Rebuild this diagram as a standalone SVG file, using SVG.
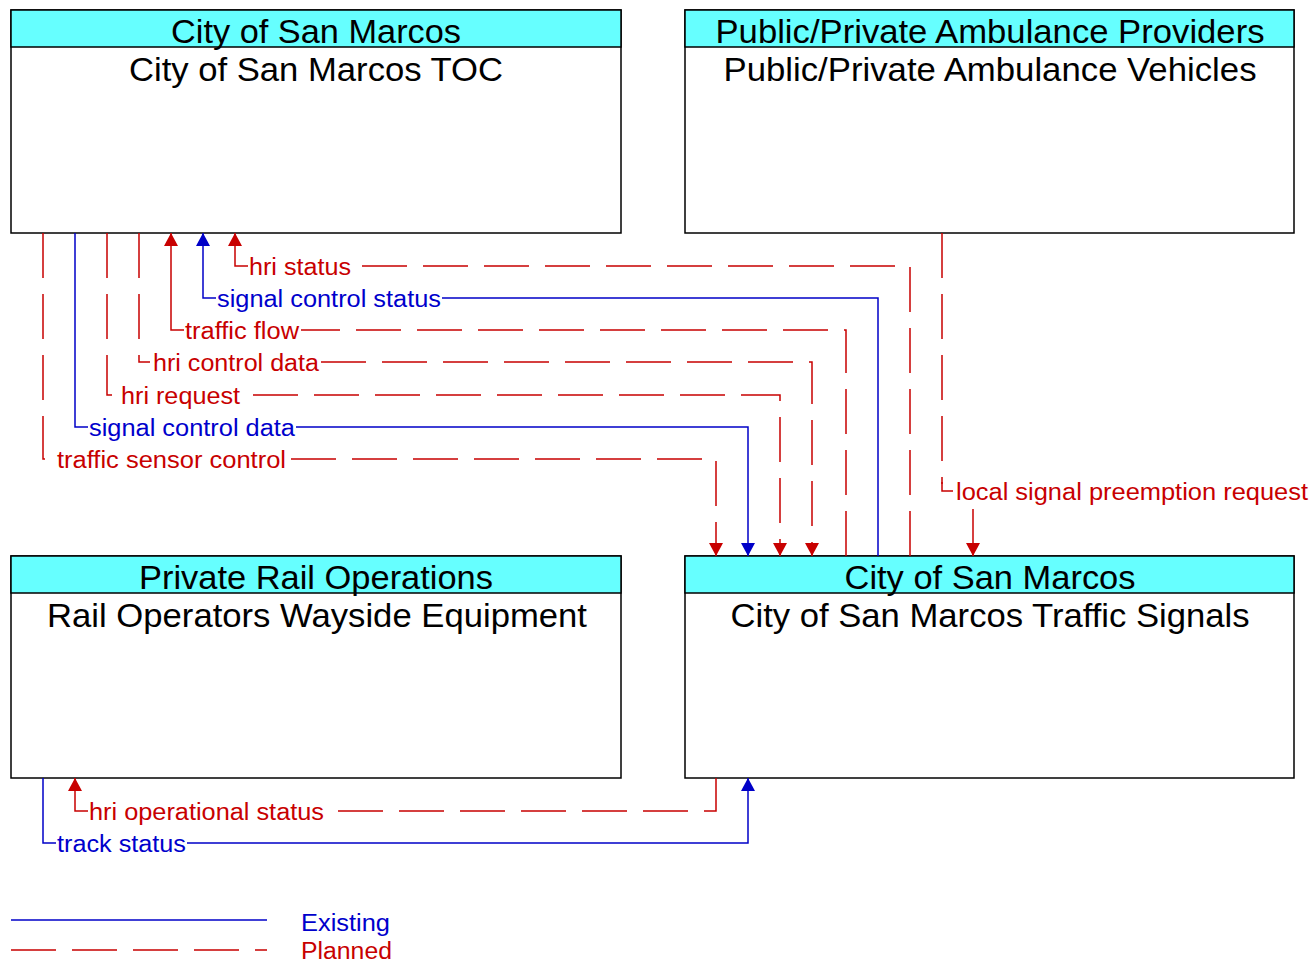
<svg xmlns="http://www.w3.org/2000/svg" width="1314" height="964" viewBox="0 0 1314 964">
<style>
.box{fill:#ffffff;stroke:#000;stroke-width:1.5}
.hdr{fill:#66ffff;stroke:#000;stroke-width:1.5}
.t{font-family:"Liberation Sans",Arial,sans-serif;font-size:33px;fill:#000;text-anchor:middle}
.lbl{font-family:"Liberation Sans",Arial,sans-serif;font-size:23px}
.r{fill:#c80000}
.b{fill:#0000cc}
.ex{fill:none;stroke:#0000c8;stroke-width:1.5}
.pl{fill:none;stroke:#c80000;stroke-width:1.5;stroke-dasharray:45 16}
.pls{fill:none;stroke:#c80000;stroke-width:1.5}
</style>
<defs>
<marker id="ar" viewBox="0 0 13 14" refX="13" refY="7" markerWidth="13" markerHeight="14" markerUnits="userSpaceOnUse" orient="auto"><path d="M0,0 L13,7 L0,14 z" fill="#c80000"/></marker>
<marker id="ab" viewBox="0 0 13 14" refX="13" refY="7" markerWidth="13" markerHeight="14" markerUnits="userSpaceOnUse" orient="auto"><path d="M0,0 L13,7 L0,14 z" fill="#0000c8"/></marker>
</defs>
<rect width="1314" height="964" fill="#fff"/>
<g id="toc">
<rect class="box" x="11" y="10" width="610" height="223"/>
<rect class="hdr" x="11" y="10" width="610" height="37"/>
<text class="t" x="316" y="43" textLength="290" lengthAdjust="spacingAndGlyphs">City of San Marcos</text>
<text class="t" x="316" y="81" textLength="374" lengthAdjust="spacingAndGlyphs">City of San Marcos TOC</text>
</g>
<g id="ambulance">
<rect class="box" x="685" y="10" width="609" height="223"/>
<rect class="hdr" x="685" y="10" width="609" height="37"/>
<text class="t" x="990" y="43" textLength="549" lengthAdjust="spacingAndGlyphs">Public/Private Ambulance Providers</text>
<text class="t" x="990" y="81" textLength="533" lengthAdjust="spacingAndGlyphs">Public/Private Ambulance Vehicles</text>
</g>
<g id="rail">
<rect class="box" x="11" y="556" width="610" height="222"/>
<rect class="hdr" x="11" y="556" width="610" height="37"/>
<text class="t" x="316" y="589" textLength="354" lengthAdjust="spacingAndGlyphs">Private Rail Operations</text>
<text class="t" x="317" y="627" textLength="540" lengthAdjust="spacingAndGlyphs">Rail Operators Wayside Equipment</text>
</g>
<g id="signals">
<rect class="box" x="685" y="556" width="609" height="222"/>
<rect class="hdr" x="685" y="556" width="609" height="37"/>
<text class="t" x="990" y="589" textLength="291" lengthAdjust="spacingAndGlyphs">City of San Marcos</text>
<text class="t" x="990" y="627" textLength="519" lengthAdjust="spacingAndGlyphs">City of San Marcos Traffic Signals</text>
</g>
<g id="connectors">
<path class="pl" d="M43,233 V459 H49"/>
<path class="pl" d="M291,459 H716 V556" marker-end="url(#ar)"/>
<text class="lbl r" x="57" y="468" textLength="229" lengthAdjust="spacingAndGlyphs">traffic sensor control</text>

<path class="ex" d="M75,233 V427 H88"/>
<path class="ex" d="M296,427 H748 V556" marker-end="url(#ab)"/>
<text class="lbl b" x="89" y="436" textLength="206" lengthAdjust="spacingAndGlyphs">signal control data</text>

<path class="pl" d="M107,233 V395 H113"/>
<path class="pl" d="M253,395 H780 V556" marker-end="url(#ar)"/>
<text class="lbl r" x="121" y="404" textLength="119" lengthAdjust="spacingAndGlyphs">hri request</text>

<path class="pl" d="M139,233 V362 H150"/>
<path class="pl" d="M321,362 H812 V556" marker-end="url(#ar)"/>
<text class="lbl r" x="153" y="371" textLength="166" lengthAdjust="spacingAndGlyphs">hri control data</text>

<path class="pl" d="M846,556 V330 H301"/>
<path class="pls" d="M184,330 H171 V233" marker-end="url(#ar)"/>
<text class="lbl r" x="185" y="339" textLength="114" lengthAdjust="spacingAndGlyphs">traffic flow</text>

<path class="ex" d="M878,556 V298 H442"/>
<path class="ex" d="M216,298 H203 V233" marker-end="url(#ab)"/>
<text class="lbl b" x="217" y="307" textLength="224" lengthAdjust="spacingAndGlyphs">signal control status</text>

<path class="pl" d="M910,556 V266 H352"/>
<path class="pls" d="M248,266 H235 V233" marker-end="url(#ar)"/>
<text class="lbl r" x="249" y="275" textLength="102" lengthAdjust="spacingAndGlyphs">hri status</text>

<path class="pl" d="M942,233 V484"/>
<path class="pls" d="M942,482 V491 H953"/>
<path class="pls" d="M973,509 V556" marker-end="url(#ar)"/>
<text class="lbl r" x="956" y="500" textLength="352" lengthAdjust="spacingAndGlyphs">local signal preemption request</text>

<path class="pl" d="M716,778 V811 H326"/>
<path class="pls" d="M88,811 H75 V778" marker-end="url(#ar)"/>
<text class="lbl r" x="89" y="820" textLength="235" lengthAdjust="spacingAndGlyphs">hri operational status</text>

<path class="ex" d="M43,778 V843 H56"/>
<path class="ex" d="M187,843 H748 V778" marker-end="url(#ab)"/>
<text class="lbl b" x="57" y="852" textLength="129" lengthAdjust="spacingAndGlyphs">track status</text>
</g>
<g id="legend">
<path class="ex" d="M11,920 H267"/>
<path class="pl" d="M11,950 H267"/>
<text class="lbl b" x="301" y="931" textLength="89" lengthAdjust="spacingAndGlyphs">Existing</text>
<text class="lbl r" x="301" y="959" textLength="91" lengthAdjust="spacingAndGlyphs">Planned</text>
</g>
</svg>
